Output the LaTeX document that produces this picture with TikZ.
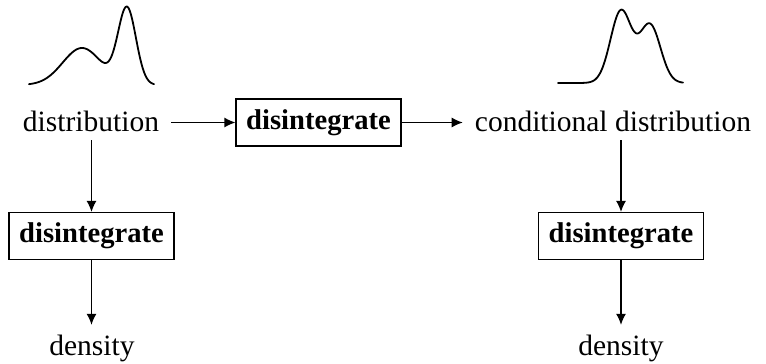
\documentclass[tikz,border=0pt]{standalone}
\usepackage{fontspec}
\setmainfont{Liberation Serif}
\usetikzlibrary{arrows.meta}
\begin{document}
\begin{tikzpicture}[x=1pt,y=-1pt,
  txt/.style={inner xsep=12pt,inner ysep=2pt,text height=20pt,text depth=7pt,font=\fontsize{29.5}{35}\selectfont},
  dbox/.style={draw,line width=1.2pt,minimum width=165pt,minimum height=47pt,inner sep=0pt,font=\fontsize{28.6}{34}\selectfont\bfseries},
  arr/.style={line width=1.2pt,-{Latex[length=11pt,width=10pt]}},
  curve/.style={line width=1.8pt,line cap=round,line join=round}]
\useasboundingbox (0,0) rectangle (766,364);
% curves
\draw[curve] plot[domain=29:154,samples=160,smooth]
  (\x,{85-37*exp(-((\x-82)/19.3)*((\x-82)/19.3)/2)-76*exp(-((\x-127)/9)*((\x-127)/9)/2)});
\draw[curve] plot[domain=558:683,samples=160,smooth]
  (\x,{83-72*exp(-((\x-621)/10.5)*((\x-621)/10.5)/2)-58*exp(-((\x-650)/10.5)*((\x-650)/10.5)/2)});
% nodes
\node[txt,anchor=base] (dist) at (91,131) {distribution};
\node[txt,anchor=base] (cond) at (613,131) {conditional distribution};
\node[dbox] (b1) at (318.5,122.5) {disintegrate};
\node[dbox] (b2) at (91.5,236) {disintegrate};
\node[dbox] (b3) at (621,236) {disintegrate};
\node[txt,anchor=base] (d1) at (92,355) {density};
\node[txt,anchor=base] (d2) at (621,355) {density};
% connectors
\draw[arr] (dist.east |- b1.west) -- (b1.west);
\draw[arr] (b1.east) -- (b1.east -| cond.west);
\draw[arr] (b2.north |- dist.south) -- (b2.north);
\draw[arr] (b3.north |- cond.south) -- (b3.north);
\draw[arr,shorten >=8pt] (b2.south) -- (b2.south |- d1.north);
\draw[arr,shorten >=8pt] (b3.south) -- (b3.south |- d2.north);
\end{tikzpicture}
\end{document}
